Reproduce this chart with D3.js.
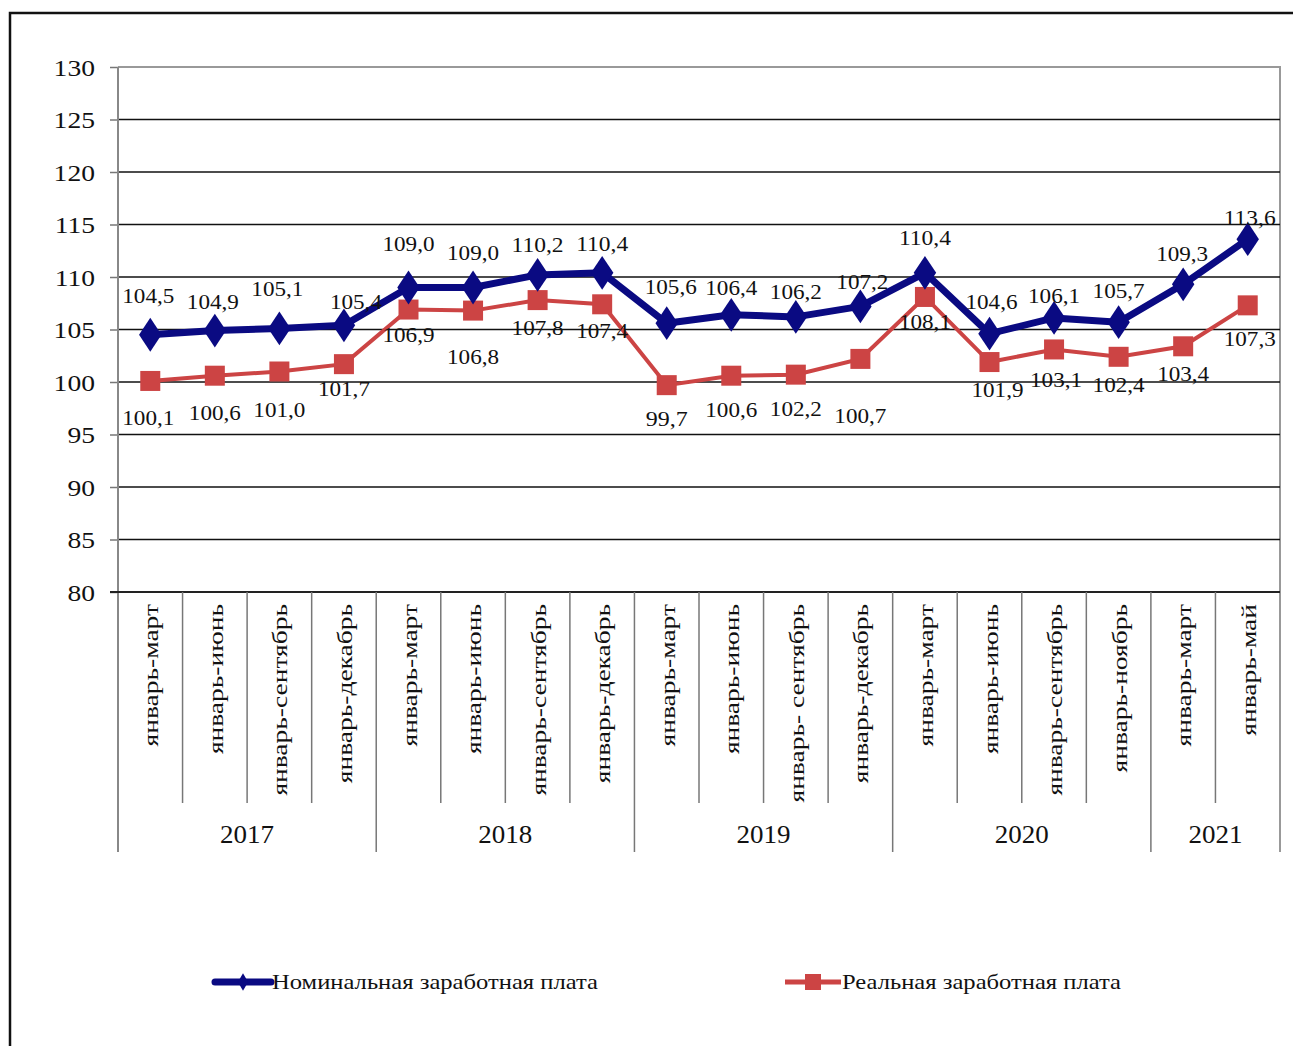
<!DOCTYPE html>
<html><head><meta charset="utf-8">
<script src="https://cdn.jsdelivr.net/npm/d3@7/dist/d3.min.js"></script>
<style>
body{margin:0;background:#fff;}
text{font-family:"Liberation Serif","Times New Roman",serif;fill:#111;}
</style></head>
<body><svg id="chart" width="1293" height="1046"></svg>
<script>
const categories = ["январь-март","январь-июнь","январь-сентябрь","январь-декабрь",
  "январь-март","январь-июнь","январь-сентябрь","январь-декабрь",
  "январь-март","январь-июнь","январь- сентябрь","январь-декабрь",
  "январь-март","январь-июнь","январь-сентябрь","январь-ноябрь",
  "январь-март","январь-май"];
const years = ["2017","2018","2019","2020","2021"];
const yearSpans = [4,4,4,4,2];
const nominal = [104.5,104.9,105.1,105.4,109.0,109.0,110.2,110.4,105.6,106.4,106.2,107.2,110.4,104.6,106.1,105.7,109.3,113.6];
const real = [100.1,100.6,101.0,101.7,106.9,106.8,107.8,107.4,99.7,100.6,100.7,102.2,108.1,101.9,103.1,102.4,103.4,107.3];
const realLabels = ["100,1","100,6","101,0","101,7","106,9","106,8","107,8","107,4","99,7","100,6","102,2","100,7","108,1","101,9","103,1","102,4","103,4","107,3"];
const nominalLabels = ["104,5","104,9","105,1","105,4","109,0","109,0","110,2","110,4","105,6","106,4","106,2","107,2","110,4","104,6","106,1","105,7","109,3","113,6"];
const yTicks = [80,85,90,95,100,105,110,115,120,125,130];
const seriesNames = ["Номинальная заработная плата","Реальная заработная плата"];

// layout (label offsets in px, not data)
const nomDy = [-39,-29,-39,-23,-44,-35,-30,-29,-36,-27,-25,-24,-35,-32,-22,-31,-30,-21];
const nomDx = [-2,-2,-2,12,0,0,0,0,4,0,0,2,0,2,0,0,-1,2];
const realDy = [37,37,38,25,25,46,28,27,34,34,34,57,25,28,31,28,28,34];
const realDx = [-2,0,0,0,0,0,0,0,0,0,0,0,0,8,2,0,0,2];

const svg = d3.select("#chart");
const X0 = 118, X1 = 1280, Y0 = 67, Y1 = 592;
const x = d3.scaleBand().domain(d3.range(categories.length)).range([X0, X1]);
const y = d3.scaleLinear().domain([80,130]).range([Y1, Y0]);
const cx = i => x(i) + x.bandwidth()/2;

// outer frame
svg.append("path").attr("d","M10,1046 L10,13 L1293,13").attr("fill","none").attr("stroke","#111").attr("stroke-width",2.5);

// plot area border (top/right gray)
svg.append("path").attr("d",`M${X0},${Y0} L${X1},${Y0} L${X1},852`).attr("fill","none").attr("stroke","#999").attr("stroke-width",2);

// grid
svg.append("g").selectAll("line").data(yTicks.filter(t=>t>80 && t<130)).join("line")
  .attr("x1",X0).attr("x2",X1).attr("y1",d=>y(d)).attr("y2",d=>y(d))
  .attr("stroke","#111").attr("stroke-width",1.3);

// y axis
const yAxis = d3.axisLeft(y).tickValues(yTicks).tickSize(8).tickFormat(d3.format("d"));
const ga = svg.append("g").attr("transform",`translate(${X0},0)`).call(yAxis);
ga.attr("font-family",null).attr("font-size",null);
ga.select(".domain").remove();
ga.selectAll(".tick line").attr("stroke","#777").attr("stroke-width",1.5);
ga.selectAll(".tick text").attr("x",null).attr("dy",null)
  .attr("transform","translate(-23,8) scale(1.2,1)")
  .style("font-family","'Liberation Serif', serif").style("font-size","23px").attr("fill","#222");
svg.append("line").attr("x1",X0).attr("x2",X0).attr("y1",Y0).attr("y2",852).attr("stroke","#888").attr("stroke-width",2);
// x axis line
svg.append("line").attr("x1",X0-8).attr("x2",X1).attr("y1",Y1).attr("y2",Y1).attr("stroke","#222").attr("stroke-width",1.8);

// category separators
const yearStarts = [0]; yearSpans.forEach((s,i)=>yearStarts.push(yearStarts[i]+s));
const seps = d3.range(1, categories.length).filter(i=>!yearStarts.includes(i));
svg.append("g").selectAll("line").data(seps).join("line")
  .attr("x1",d=>x(d)).attr("x2",d=>x(d)).attr("y1",Y1).attr("y2",803)
  .attr("stroke","#777").attr("stroke-width",1.5);
svg.append("g").selectAll("line").data(yearStarts.slice(1,-1)).join("line")
  .attr("x1",d=>x(d)).attr("x2",d=>x(d)).attr("y1",Y1).attr("y2",852)
  .attr("stroke","#777").attr("stroke-width",1.5);

// category labels
svg.append("g").selectAll("text").data(categories).join("text")
  .attr("transform",(d,i)=>`translate(${cx(i)+8},604) rotate(-90) scale(1.25,1)`)
  .attr("text-anchor","end").style("font-size","22px").text(d=>d);

// year labels
svg.append("g").selectAll("text").data(years).join("text")
  .attr("x",(d,i)=>(x(yearStarts[i]) + (yearStarts[i+1]<categories.length ? x(yearStarts[i+1]) : X1))/2)
  .attr("y",843).attr("text-anchor","middle").style("font-size","25px")
  .attr("textLength",54).attr("lengthAdjust","spacingAndGlyphs").text(d=>d);

// lines
const line = d3.line().x((d,i)=>cx(i)).y(d=>y(d));
const BLUE = "#0a0a82", RED = "#cc4444";
svg.append("path").datum(real).attr("d",line).attr("fill","none").attr("stroke",RED).attr("stroke-width",4);
svg.append("path").datum(nominal).attr("d",line).attr("fill","none").attr("stroke",BLUE).attr("stroke-width",7).attr("stroke-linejoin","round");

svg.append("g").selectAll("rect").data(real).join("rect")
  .attr("x",(d,i)=>cx(i)-10).attr("y",d=>y(d)-10).attr("width",20).attr("height",20).attr("fill",RED);
const diamond = d3.symbol().type(d3.symbolDiamond).size(330);
svg.append("g").selectAll("path").data(nominal).join("path")
  .attr("transform",(d,i)=>`translate(${cx(i)},${y(d)}) scale(1.15,1)`).attr("d",diamond).attr("fill",BLUE);

// data labels
svg.append("g").selectAll("text").data(nominal).join("text")
  .attr("x",(d,i)=>cx(i)+nomDx[i]).attr("y",(d,i)=>y(d)+nomDy[i]+7)
  .attr("text-anchor","middle").style("font-size","21px").attr("textLength",52).attr("lengthAdjust","spacingAndGlyphs")
  .text((d,i)=>nominalLabels[i]);
svg.append("g").selectAll("text").data(real).join("text")
  .attr("x",(d,i)=>cx(i)+realDx[i]).attr("y",(d,i)=>y(d)+realDy[i]+7)
  .attr("text-anchor","middle").style("font-size","21px")
  .attr("textLength",(d,i)=>realLabels[i].length===4?42:52).attr("lengthAdjust","spacingAndGlyphs")
  .text((d,i)=>realLabels[i]);

// legend
const lg = svg.append("g");
lg.append("line").attr("x1",215).attr("x2",271).attr("y1",982).attr("y2",982).attr("stroke",BLUE).attr("stroke-width",7).attr("stroke-linecap","round");
lg.append("path").attr("transform","translate(243,982)").attr("d",d3.symbol().type(d3.symbolDiamond).size(90)).attr("fill",BLUE);
lg.append("text").attr("x",272).attr("y",989).style("font-size","21px").attr("textLength",326).attr("lengthAdjust","spacingAndGlyphs").text(seriesNames[0]);
lg.append("line").attr("x1",785).attr("x2",841).attr("y1",982).attr("y2",982).attr("stroke",RED).attr("stroke-width",5);
lg.append("rect").attr("x",805).attr("y",974).attr("width",16).attr("height",16).attr("fill",RED);
lg.append("text").attr("x",842).attr("y",989).style("font-size","21px").attr("textLength",279).attr("lengthAdjust","spacingAndGlyphs").text(seriesNames[1]);
</script></body></html>
